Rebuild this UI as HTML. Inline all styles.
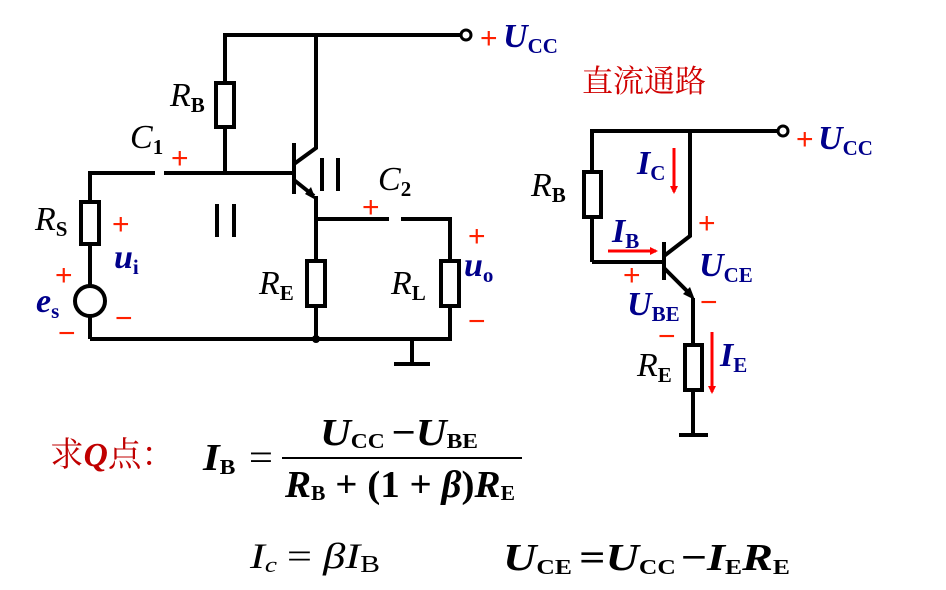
<!DOCTYPE html>
<html><head><meta charset="utf-8"><style>
html,body{margin:0;padding:0;background:#fff;width:946px;height:590px;overflow:hidden}
svg{display:block}
text{font-family:"Liberation Serif","Noto Serif CJK SC",serif}
.w{stroke:#000;stroke-width:4;fill:none}
.r{stroke:#000;stroke-width:4;fill:#fff}
.lb{font-style:italic;font-size:34px;fill:#000}
.sb{font-size:21px;font-weight:bold;font-style:normal}
.bl{fill:#00008b;font-weight:bold;font-style:italic;font-size:34px}
.pm{fill:#ff2000;font-family:"Liberation Sans",sans-serif;font-size:30px}
.fm{font-weight:bold;font-style:italic;font-size:38px;fill:#000}
</style></head><body>
<svg width="946" height="590" viewBox="0 0 946 590">
<defs><marker id="ar" markerWidth="8" markerHeight="8" refX="6" refY="4" orient="auto" markerUnits="userSpaceOnUse"><path d="M0,0 L8,4 L0,8 z" fill="#ff0000"/></marker></defs>
<!-- LEFT CIRCUIT -->
<polyline class="w" points="225,173 225,35 461,35"/>
<circle cx="466" cy="35" r="5" fill="#fff" stroke="#000" stroke-width="3"/>
<rect class="r" x="216" y="83" width="18" height="44"/>
<polyline class="w" points="316,35 316,148 294,164"/>
<line class="w" x1="294" y1="143" x2="294" y2="194" stroke-width="5"/>
<polyline class="w" points="90,339 90,173 155,173"/>
<line class="w" x1="164" y1="173" x2="294" y2="173"/>
<polyline class="w" points="294,180 314,196"/>
<path d="M316,200 L305,194 L311,187 z" fill="#000"/>
<polyline class="w" points="316,196 316,339"/>
<line class="w" x1="316" y1="219" x2="389" y2="219"/>
<polyline class="w" points="401,219 450,219 450,339 90,339"/>
<rect class="r" x="307" y="261" width="18" height="45"/>
<rect class="r" x="441" y="261" width="18" height="45"/>
<rect class="r" x="81" y="202" width="18" height="42"/>
<circle cx="90" cy="301" r="15" fill="#fff" stroke="#000" stroke-width="4"/>
<circle cx="316" cy="339" r="4" fill="#000"/>
<polyline class="w" points="412,339 412,364"/>
<line class="w" x1="394" y1="364" x2="430" y2="364"/>
<g class="w"><line x1="217" y1="204" x2="217" y2="237"/><line x1="234" y1="204" x2="234" y2="237"/>
<line x1="322" y1="158" x2="322" y2="191"/><line x1="338" y1="158" x2="338" y2="191"/></g>
<text class="lb" x="170" y="106">R<tspan class="sb" dy="6">B</tspan></text>
<text class="lb" x="130" y="148">C<tspan class="sb" dy="6">1</tspan></text>
<text class="pm" x="171" y="168">+</text>
<text class="lb" x="35" y="230">R<tspan class="sb" dy="6">S</tspan></text>
<text class="pm" x="112" y="234">+</text>
<text class="bl" x="114" y="268">u<tspan class="sb" dy="6" fill="#00008b">i</tspan></text>
<text class="pm" x="55" y="285">+</text>
<text class="bl" x="36" y="312">e<tspan class="sb" dy="6" fill="#00008b">s</tspan></text>
<text class="pm" x="115" y="328">−</text>
<text class="pm" x="58" y="343">−</text>
<text class="lb" x="259" y="294">R<tspan class="sb" dy="6">E</tspan></text>
<text class="lb" x="378" y="190">C<tspan class="sb" dy="6">2</tspan></text>
<text class="pm" x="362" y="217">+</text>
<text class="lb" x="391" y="294">R<tspan class="sb" dy="6">L</tspan></text>
<text class="pm" x="468" y="246">+</text>
<text class="bl" x="464" y="276">u<tspan class="sb" dy="6" fill="#00008b">o</tspan></text>
<text class="pm" x="468" y="331">−</text>
<text class="pm" x="480" y="48">+</text>
<text class="bl" x="503" y="47">U<tspan class="sb" dy="6" fill="#00008b">CC</tspan></text>
<!-- RIGHT CIRCUIT -->
<text x="582" y="92" font-size="31" fill="#d00000" font-family="'Noto Sans CJK SC',sans-serif">直流通路</text>
<polyline class="w" points="592,262 592,131 778,131"/>
<circle cx="783" cy="131" r="5" fill="#fff" stroke="#000" stroke-width="3"/>
<rect class="r" x="584" y="172" width="17" height="45"/>
<line class="w" x1="592" y1="262" x2="664" y2="262"/>
<line class="w" x1="664" y1="242" x2="664" y2="280" stroke-width="5"/>
<polyline class="w" points="690,131 690,236 664,256"/>
<polyline class="w" points="664,268 690,294"/>
<path d="M695,300 L683,294 L690,287 z" fill="#000"/>
<polyline class="w" points="693,298 693,435"/>
<rect class="r" x="685" y="345" width="17" height="45"/>
<line class="w" x1="679" y1="435" x2="708" y2="435"/>
<g stroke="#ff0000" stroke-width="3" marker-end="url(#ar)">
<line x1="674" y1="148" x2="674" y2="192"/>
<line x1="608" y1="251" x2="656" y2="251"/>
<line x1="712" y1="332" x2="712" y2="392"/></g>
<text class="lb" x="531" y="196">R<tspan class="sb" dy="6">B</tspan></text>
<text class="bl" x="637" y="174">I<tspan class="sb" dy="6" fill="#00008b">C</tspan></text>
<text class="pm" x="698" y="233">+</text>
<text class="bl" x="612" y="242">I<tspan class="sb" dy="6" fill="#00008b">B</tspan></text>
<text class="bl" x="699" y="276">U<tspan class="sb" dy="6" fill="#00008b">CE</tspan></text>
<text class="pm" x="623" y="285">+</text>
<text class="pm" x="700" y="312">−</text>
<text class="bl" x="627" y="315">U<tspan class="sb" dy="6" fill="#00008b">BE</tspan></text>
<text class="pm" x="658" y="346">−</text>
<text class="lb" x="637" y="376">R<tspan class="sb" dy="6">E</tspan></text>
<text class="bl" x="720" y="366">I<tspan class="sb" dy="6" fill="#00008b">E</tspan></text>
<text class="pm" x="796" y="149">+</text>
<text class="bl" x="818" y="149">U<tspan class="sb" dy="6" fill="#00008b">CC</tspan></text>
<!-- FORMULAS -->
<text x="50" y="466" font-size="34" fill="#c00000" textLength="125" lengthAdjust="spacingAndGlyphs" font-family="'Noto Serif CJK SC',serif">求<tspan font-family="'Liberation Serif',serif" font-style="italic" font-weight="bold">Q</tspan>点：</text>
<text class="fm" x="203" y="470" textLength="70" lengthAdjust="spacingAndGlyphs">I<tspan class="sb" font-size="22" dy="4">B</tspan><tspan font-style="normal" font-weight="normal" dx="12" dy="-4">=</tspan></text>
<text class="fm" x="320" y="445" textLength="158" lengthAdjust="spacingAndGlyphs">U<tspan class="sb" font-size="22" dy="3">CC</tspan><tspan font-style="normal" dx="6" dy="-3">−</tspan>U<tspan class="sb" font-size="22" dy="3">BE</tspan></text>
<line x1="282" y1="458" x2="522" y2="458" stroke="#000" stroke-width="2"/>
<text class="fm" x="285" y="497" textLength="230" lengthAdjust="spacingAndGlyphs">R<tspan class="sb" font-size="22" dy="3">B</tspan><tspan font-style="normal" dy="-3"> + (1 + </tspan>β<tspan font-style="normal">)</tspan>R<tspan class="sb" font-size="22" dy="3">E</tspan></text>
<text x="250" y="568" font-size="36" font-style="italic" textLength="130" lengthAdjust="spacingAndGlyphs">I<tspan font-size="22" dy="4">c</tspan><tspan font-style="normal" dx="8" dy="-4">= </tspan>βI<tspan font-style="normal" font-size="24" dy="4">B</tspan></text>
<text class="fm" x="503" y="570" textLength="287" lengthAdjust="spacingAndGlyphs">U<tspan class="sb" font-size="22" dy="4">CE</tspan><tspan font-style="normal" dx="6" dy="-4">=</tspan>U<tspan class="sb" font-size="22" dy="4">CC</tspan><tspan font-style="normal" dx="4" dy="-4">−</tspan>I<tspan class="sb" font-size="22" dy="4">E</tspan><tspan dy="-4">R</tspan><tspan class="sb" font-size="22" dy="4">E</tspan></text>
</svg>
</body></html>
